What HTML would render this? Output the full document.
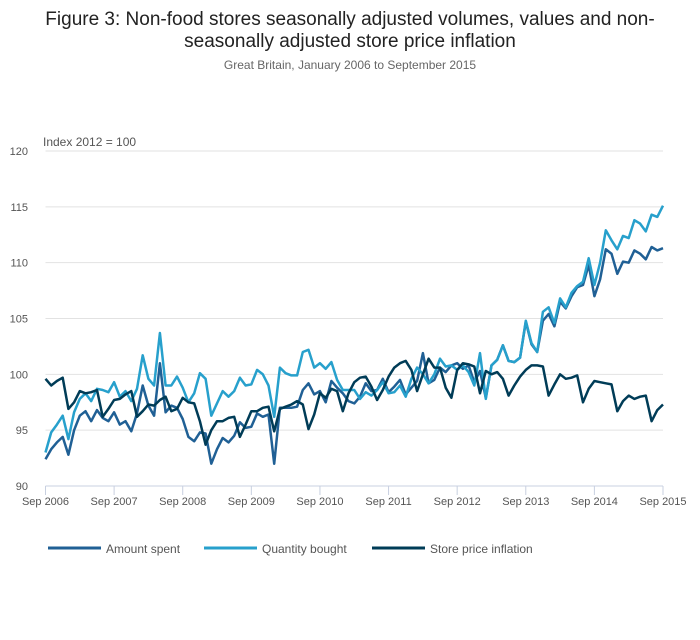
<!DOCTYPE html>
<html><head><meta charset="utf-8"><style>
body{margin:0;background:#fff;width:700px;height:635px;overflow:hidden;font-family:"Liberation Sans",sans-serif}
</style></head><body>
<svg width="700" height="635" xmlns="http://www.w3.org/2000/svg">
<text x="350" y="25" text-anchor="middle" font-size="19" fill="#222">Figure 3: Non-food stores seasonally adjusted volumes, values and non-</text>
<text x="350" y="47" text-anchor="middle" font-size="19" fill="#222">seasonally adjusted store price inflation</text>
<text x="350" y="69" text-anchor="middle" font-size="12" fill="#666">Great Britain, January 2006 to September 2015</text>
<text x="43" y="146" font-size="12" fill="#555">Index 2012 = 100</text>
<g id="grid"></g><g id="xaxis"></g><g id="lines"></g>
<g>
<line x1="48" y1="548" x2="101" y2="548" stroke="#206095" stroke-width="3"/>
<text x="106" y="553" font-size="12" fill="#555">Amount spent</text>
<line x1="204" y1="548" x2="257" y2="548" stroke="#27a0cc" stroke-width="3"/>
<text x="262" y="553" font-size="12" fill="#555">Quantity bought</text>
<line x1="372" y1="548" x2="425" y2="548" stroke="#003c57" stroke-width="3"/>
<text x="430" y="553" font-size="12" fill="#555">Store price inflation</text>
</g>
</svg>
<script>
const yTicks=[90,95,100,105,110,115,120];
const xLabels=["Sep 2006","Sep 2007","Sep 2008","Sep 2009","Sep 2010","Sep 2011","Sep 2012","Sep 2013","Sep 2014","Sep 2015"];
const amountSpent=[92.4,93.3,93.9,94.4,92.8,95.0,96.3,96.7,95.8,96.8,96.1,95.8,96.6,95.5,95.8,94.9,96.5,99.0,97.2,96.3,101.0,96.6,97.2,97.0,96.0,94.4,94.0,94.8,94.7,92.0,93.3,94.3,93.9,94.5,95.7,95.2,95.3,96.5,96.2,96.4,92.0,97.0,97.0,97.0,97.1,98.6,99.2,98.2,98.5,97.5,99.4,98.8,98.3,97.6,97.4,98.0,99.2,98.5,98.6,99.6,98.4,98.9,99.5,98.2,98.8,99.4,101.9,99.2,99.5,100.6,100.2,100.8,101.0,100.5,100.8,99.3,100.3,97.9,100.8,101.3,102.6,101.2,101.1,101.5,104.7,102.7,102.0,104.8,105.4,104.3,106.5,105.9,107.0,107.8,108.0,109.8,107.0,108.5,111.2,110.8,109.0,110.1,110.0,111.1,110.8,110.3,111.4,111.1,111.3];
const quantityBought=[93.0,94.8,95.5,96.3,94.2,96.6,97.8,98.3,97.6,98.7,98.6,98.4,99.3,98.0,98.5,97.6,98.7,101.7,99.6,99.0,103.7,99.0,99.0,99.8,98.8,97.5,98.3,100.1,99.6,96.3,97.4,98.5,98.0,98.5,99.7,99.0,99.1,100.4,100.0,99.0,96.2,100.6,100.1,99.9,99.9,102.0,102.2,100.6,101.0,100.5,101.1,99.5,98.6,98.6,98.6,97.8,98.4,98.1,98.6,99.3,98.3,98.4,99.0,98.0,99.6,100.6,100.0,99.2,100.0,101.4,100.7,100.8,100.4,100.8,100.2,99.0,101.9,97.8,100.8,101.3,102.6,101.2,101.1,101.5,104.8,102.8,102.0,105.6,106.0,104.6,106.8,106.0,107.3,107.9,108.3,110.4,108.0,110.0,112.9,112.0,111.2,112.4,112.2,113.8,113.5,112.8,114.3,114.1,115.1];
const storePriceInflation=[99.6,99.0,99.4,99.7,96.9,97.5,98.5,98.3,98.4,98.6,96.2,96.9,97.7,97.8,98.2,98.5,96.2,96.7,97.3,97.2,97.7,98.0,96.7,96.9,97.9,97.5,97.4,95.8,93.7,95.0,95.8,95.8,96.1,96.2,94.4,95.5,96.7,96.7,97.0,97.1,94.9,96.9,97.1,97.3,97.6,97.3,95.1,96.4,98.3,97.9,98.7,98.5,96.7,98.3,99.3,99.7,99.8,98.9,97.7,98.6,99.8,100.6,101.0,101.2,100.4,98.5,100.0,101.4,100.6,100.6,98.8,97.9,100.4,101.0,100.9,100.7,98.3,100.3,100.0,100.2,99.6,98.1,99.0,99.8,100.4,100.8,100.8,100.7,98.1,99.1,100.0,99.6,99.7,99.9,97.5,98.7,99.4,99.3,99.2,99.1,96.7,97.6,98.1,97.8,98.0,98.1,95.8,96.8,97.3];
const X0=45.5,X1=663,Y0=486,Y1=151,YMIN=90,YMAX=120,N=108;
const xs=i=>X0+(X1-X0)*i/N;
const ys=v=>Y0-(v-YMIN)*(Y0-Y1)/(YMAX-YMIN);
const NS="http://www.w3.org/2000/svg";
function mk(t,a,p){const e=document.createElementNS(NS,t);for(const k in a)e.setAttribute(k,a[k]);p.appendChild(e);return e;}
const grid=document.getElementById('grid'),xa=document.getElementById('xaxis'),lg=document.getElementById('lines');
yTicks.forEach(v=>{
 const l=mk('line',{x1:X0,x2:X1,y1:ys(v),y2:ys(v),stroke:v===YMIN?'#c8d0e0':'#e2e2e2','stroke-width':1},grid);
 
 
 const t=mk('text',{x:28,y:ys(v)+4,'text-anchor':'end','font-size':11,fill:'#555'},grid);
 t.textContent=v;
 
 
});
xLabels.forEach((s,k)=>{
 const x=xs(k*12);
 const tk=mk('line',{x1:x,x2:x,y1:Y0,y2:Y0+9,stroke:'#c8d0e0','stroke-width':1},xa);
 
 
 const t=mk('text',{x:x,y:Y0+19,'text-anchor':'middle','font-size':11,fill:'#555'},xa);
 t.textContent=s;
 
 
});
[[amountSpent,'#206095','amount-spent-line'],[quantityBought,'#27a0cc','quantity-bought-line'],[storePriceInflation,'#003c57','store-price-inflation-line']].forEach(([d,c,n])=>{
 const p=mk('path',{d:d.map((v,i)=>(i?'L':'M')+xs(i).toFixed(1)+','+ys(v).toFixed(1)).join(''),fill:'none',stroke:c,'stroke-width':2.5,'stroke-linejoin':'round'},lg);
 
 
});
</script>
</body></html>
